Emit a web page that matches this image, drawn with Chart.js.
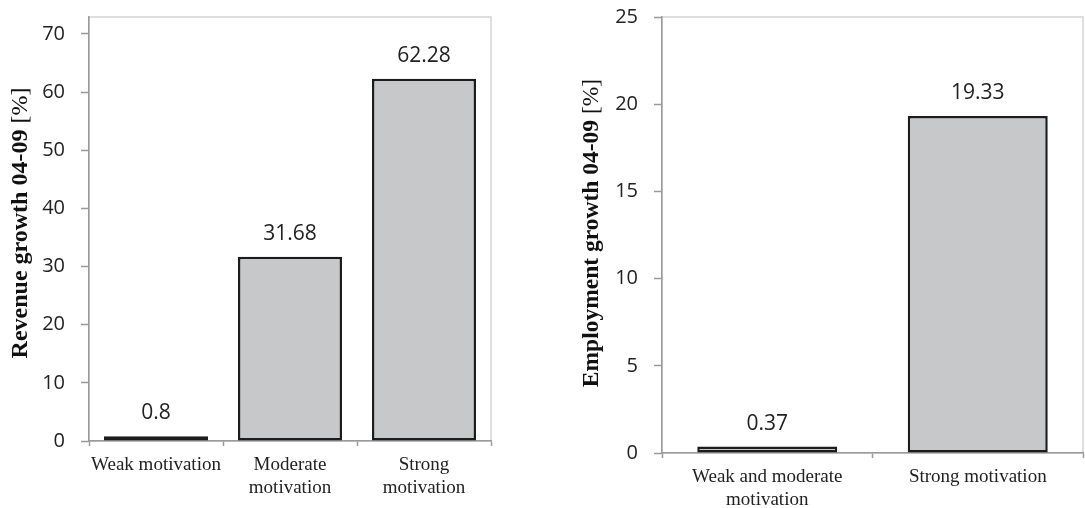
<!DOCTYPE html>
<html>
<head>
<meta charset="utf-8">
<script src="https://cdn.jsdelivr.net/npm/chart.js@4/dist/chart.umd.min.js"></script>
<style>
  html, body { margin: 0; padding: 0; background: #fff; }
  #wrap { position: relative; width: 1085px; height: 508px; }
  #revenueWrap { position: absolute; left: 0; top: 0; width: 500px; height: 508px; }
  #employmentWrap { position: absolute; left: 545px; top: 0; width: 540px; height: 508px; }
</style>
</head>
<body>
<div id="wrap">
  <div id="revenueWrap"><canvas id="revenueChart" width="500" height="508"></canvas></div>
  <div id="employmentWrap"><canvas id="employmentChart" width="540" height="508"></canvas></div>
</div>
<script>
// data
const revenueCategories = ['Weak motivation', ['Moderate', 'motivation'], ['Strong', 'motivation']];
const revenueGrowth = [0.8, 31.68, 62.28];
const revenueTicks = [0, 10, 20, 30, 40, 50, 60, 70];

const employmentCategories = [['Weak and moderate', 'motivation'], 'Strong motivation'];
const employmentGrowth = [0.37, 19.33];
const employmentTicks = [0, 5, 10, 15, 20, 25];

const SANS = "'Open Sans', 'Noto Sans', sans-serif";
const SERIF = "'Liberation Serif', 'DejaVu Serif', serif";

// light frame around the plot area
const framePlugin = {
    id: 'frame',
    beforeDraw(chart) {
        const a = chart.chartArea;
        const ctx = chart.ctx;
        ctx.save();
        ctx.strokeStyle = '#d4d4d4';
        ctx.lineWidth = 1.5;
        ctx.strokeRect(a.left, a.top, a.right - a.left, a.bottom - a.top);
        ctx.restore();
    }
};

// value labels above the bars
const valueLabels = {
    id: 'valueLabels',
    afterDatasetsDraw(chart) {
        const ctx = chart.ctx;
        const ds = chart.data.datasets[0];
        ctx.save();
        ctx.font = '21px ' + SANS;
        ctx.fillStyle = '#222';
        ctx.textAlign = 'center';
        ctx.textBaseline = 'alphabetic';
        chart.getDatasetMeta(0).data.forEach((bar, i) => {
            ctx.fillText(String(ds.data[i]), bar.x, bar.y - 17);
        });
        ctx.restore();
    }
};

// y axis title: bold words, regular unit
const axisTitle = {
    id: 'axisTitle',
    afterDraw(chart, args, opts) {
        const ctx = chart.ctx;
        const a = chart.chartArea;
        const cy = opts.cy != null ? opts.cy : (a.top + a.bottom) / 2;
        ctx.save();
        ctx.translate(opts.x, cy);
        ctx.rotate(-Math.PI / 2);
        ctx.fillStyle = '#111';
        ctx.textBaseline = 'middle';
        ctx.textAlign = 'left';
        const boldFont = 'bold ' + opts.size + 'px ' + SERIF;
        const normFont = opts.size + 'px ' + SERIF;
        ctx.font = boldFont;
        const w1 = ctx.measureText(opts.bold).width;
        ctx.font = normFont;
        const w2 = ctx.measureText(opts.unit).width;
        let x = -(w1 + w2) / 2;
        ctx.font = boldFont;
        ctx.fillText(opts.bold, x, 0);
        ctx.font = normFont;
        ctx.fillText(opts.unit, x + w1, 0);
        ctx.restore();
    }
};

function makeChart(id, categories, values, ticks, o) {
    return new Chart(document.getElementById(id), {
        type: 'bar',
        data: {
            labels: categories,
            datasets: [{
                data: values,
                backgroundColor: '#c7c8ca',
                borderColor: '#1c1c1c',
                borderWidth: 2.5,
                borderSkipped: false,
                categoryPercentage: 1,
                barPercentage: o.barPct
            }]
        },
        options: {
            responsive: false,
            animation: false,
            layout: { padding: { top: 17, right: o.padRight, left: 0, bottom: 0 } },
            plugins: {
                legend: { display: false },
                tooltip: { enabled: false },
                axisTitle: o.title
            },
            scales: {
                x: {
                    grid: {
                        offset: true,
                        drawOnChartArea: false,
                        drawTicks: true,
                        tickLength: 5,
                        tickColor: '#9a9a9a',
                        tickWidth: 1.5
                    },
                    border: { color: '#9a9a9a', width: 1.5 },
                    ticks: {
                        font: { family: SERIF, size: 19 },
                        color: '#222',
                        padding: 8,
                        maxRotation: 0,
                        autoSkip: false
                    },
                    afterFit(scale) {
                        scale.height = o.xHeight;
                        scale.paddingLeft = 0;
                        scale.paddingRight = 0;
                    }
                },
                y: {
                    min: 0,
                    max: o.yMax,
                    afterBuildTicks(scale) { scale.ticks = ticks.map(v => ({ value: v })); },
                    grid: {
                        drawOnChartArea: false,
                        drawTicks: true,
                        tickLength: 8,
                        tickColor: '#9a9a9a',
                        tickWidth: 1.5
                    },
                    border: { color: '#9a9a9a', width: 1.5 },
                    ticks: {
                        font: { family: SANS, size: 20 },
                        color: '#222',
                        padding: 16
                    },
                    afterFit(scale) {
                        scale.width = o.yWidth;
                        scale.paddingTop = 0;
                        scale.paddingBottom = 0;
                    }
                }
            }
        },
        plugins: [framePlugin, valueLabels, axisTitle]
    });
}

document.addEventListener('DOMContentLoaded', function() {
    makeChart('revenueChart', revenueCategories, revenueGrowth, revenueTicks, {
        barPct: 0.776,
        padRight: 9,
        xHeight: 67,
        yWidth: 89,
        yMax: 72.92,
        title: { x: 21, cy: 223, size: 24, bold: 'Revenue growth 04-09 ', unit: '[%]' }
    });
    makeChart('employmentChart', employmentCategories, employmentGrowth, employmentTicks, {
        barPct: 0.665,
        padRight: 2,
        xHeight: 55,
        yWidth: 117,
        yMax: 25,
        title: { x: 47, cy: 233, size: 23.5, bold: 'Employment growth 04-09 ', unit: '[%]' }
    });
});
</script>
</body>
</html>
